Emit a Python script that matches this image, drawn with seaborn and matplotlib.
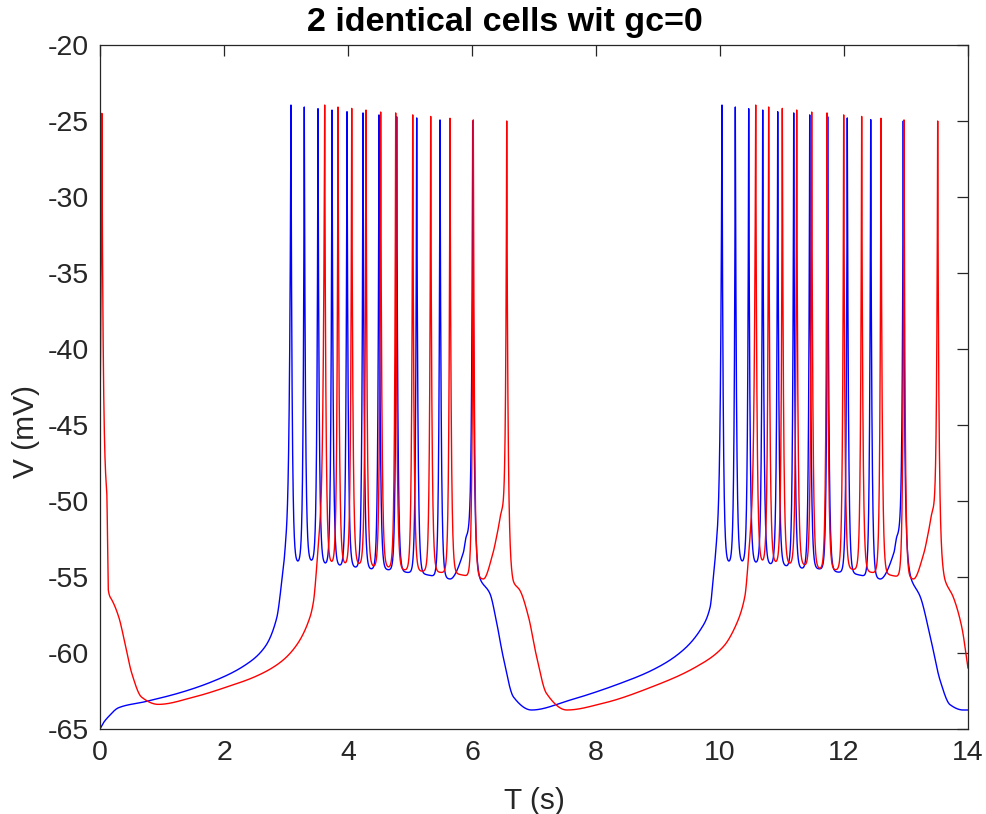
import numpy as np
import pandas as pd
import matplotlib
matplotlib.use("Agg")
import matplotlib.pyplot as plt
import seaborn as sns

# ---------------- data ----------------
# spike times (s) and peak voltages (mV)
blue_spike_t = [3.080, 3.295, 3.516, 3.742, 3.984, 4.242, 4.500, 4.785, 5.108, 5.484, 6.011,
                10.032, 10.247, 10.463, 10.689, 10.931, 11.189, 11.447, 11.737, 12.053, 12.431, 12.956]
blue_peak = [-23.95, -24.08, -24.19, -24.28, -24.39, -24.47, -24.60, -24.72, -24.80, -24.93, -25.00,
             -23.95, -24.08, -24.19, -24.28, -24.39, -24.47, -24.60, -24.72, -24.80, -24.91, -25.00]
# sub-threshold trace (troughs and slow wave) read at key times
blue_key_t = [0.000, 0.054, 0.134, 0.300, 0.730, 1.260, 1.800, 2.340, 2.660, 2.850, 2.957, 3.005,
              3.166, 3.382, 3.608, 3.834, 4.076, 4.334, 4.608, 4.898, 5.237, 5.645, 5.860, 5.910, 5.960,
              6.130, 6.290, 6.400, 6.500, 6.670, 6.960, 7.580, 8.390, 8.920, 9.350, 9.680, 9.840, 9.907, 9.955,
              10.118, 10.334, 10.560, 10.790, 11.032, 11.285, 11.559, 11.855, 12.188, 12.581, 12.805, 12.855,
              12.905,
              13.090, 13.230, 13.390, 13.550, 13.710, 13.920, 14.000]
blue_key_v = [-65.0, -64.6, -64.2, -63.6, -63.2, -62.65, -61.9, -60.8, -59.6, -57.7, -54.4, -52.0,
              -53.77, -53.70, -53.93, -54.03, -54.13, -54.26, -54.43, -54.60, -54.80, -55.13, -53.4, -52.3, -50.8,
              -55.1, -56.1, -58.05, -60.2, -62.9, -63.75, -63.1, -62.0, -61.1, -60.0, -58.5, -57.0, -54.4, -52.0,
              -53.77, -53.77, -53.93, -54.03, -54.13, -54.26, -54.39, -54.60, -54.80, -55.13, -53.4, -52.3,
              -50.8,
              -55.2, -56.3, -58.9, -61.8, -63.4, -63.75, -63.75]

red_spike_t = [0.030, 3.624, 3.839, 4.060, 4.290, 4.527, 4.769, 5.044, 5.334, 5.645, 6.021, 6.560,
               10.576, 10.785, 11.005, 11.237, 11.479, 11.726, 11.995, 12.285, 12.597, 12.968, 13.511]
red_peak = [-24.5, -23.95, -24.08, -24.17, -24.28, -24.41, -24.47, -24.60, -24.70, -24.82, -24.93, -25.00,
            -23.95, -24.08, -24.17, -24.28, -24.41, -24.47, -24.60, -24.70, -24.82, -24.93, -25.00]
red_key_t = [0.000, 0.108, 0.134, 0.190, 0.300, 0.400, 0.510, 0.670, 0.940, 1.530, 2.070, 2.500,
             2.880, 3.150, 3.390, 3.440, 3.550,
             3.710, 3.924, 4.150, 4.382, 4.624, 4.876, 5.140, 5.444, 5.779, 6.182, 6.340, 6.400, 6.480,
             6.670, 6.770, 6.910, 7.040, 7.200, 7.530, 8.120, 8.920, 9.620, 10.050, 10.270, 10.400, 10.502,
             10.666, 10.876, 11.100, 11.339, 11.570, 11.830, 12.108, 12.398, 12.715, 13.118, 13.290, 13.350,
             13.430,
             13.630, 13.760, 13.900, 14.000]
red_key_v = [-44.3, -49.3, -55.86, -56.5, -57.6, -59.3, -61.3, -62.9, -63.38, -62.88, -62.2, -61.56,
             -60.7, -59.6, -57.6, -56.7, -51.25,
             -53.77, -53.84, -53.93, -54.10, -54.21, -54.43, -54.43, -54.60, -54.80, -55.13, -53.4, -52.3, -50.6,
             -55.3, -55.86, -57.6, -60.2, -62.65, -63.75, -63.3, -62.2, -60.9, -59.6, -58.05, -56.3, -51.25,
             -53.77, -53.84, -53.97, -54.10, -54.21, -54.43, -54.43, -54.60, -54.80, -55.13, -53.4, -52.3,
             -50.6,
             -55.2, -56.3, -58.3, -61.0]

x_ticks = [0, 2, 4, 6, 8, 10, 12, 14]
y_ticks = [-65, -60, -55, -50, -45, -40, -35, -30, -25, -20]
title_text = "2 identical cells wit gc=0"
x_label = "T (s)"
y_label = "V (mV)"


# ---------------- trace construction ----------------
def pchip(x, y, xn):
    x = np.asarray(x, float); y = np.asarray(y, float); xn = np.asarray(xn, float)
    h = np.diff(x); d = np.diff(y) / h
    m = np.zeros_like(y)
    for k in range(1, len(x) - 1):
        if d[k - 1] * d[k] > 0:
            w1 = 2 * h[k] + h[k - 1]; w2 = h[k] + 2 * h[k - 1]
            m[k] = (w1 + w2) / (w1 / d[k - 1] + w2 / d[k])
    m[0] = d[0]; m[-1] = d[-1]
    idx = np.clip(np.searchsorted(x, xn) - 1, 0, len(x) - 2)
    s = (xn - x[idx]) / h[idx]
    h00 = 2 * s**3 - 3 * s**2 + 1; h10 = s**3 - 2 * s**2 + s
    h01 = -2 * s**3 + 3 * s**2; h11 = s**3 - s**2
    return h00 * y[idx] + h10 * h[idx] * m[idx] + h01 * y[idx + 1] + h11 * h[idx] * m[idx + 1]


def build(t, spk_t, spk_p, key_t, key_v, tau_d, tau_r):
    spk_t = np.asarray(spk_t, float); spk_p = np.asarray(spk_p, float)
    key_t = np.asarray(key_t, float); target = np.asarray(key_v, float)
    base_v = target.copy()

    def spikes(tt, bv):
        out = np.zeros_like(tt)
        b = pchip(key_t, bv, spk_t)
        for ts, p, bs, td, tr in zip(spk_t, spk_p, b, tau_d, tau_r):
            dd = tt - ts
            k = np.where(dd >= 0, np.exp(-np.clip(dd, 0, None) / td),
                         np.exp(np.clip(dd, None, 0) / tr))
            out += (p - bs) * k
        return out

    # the drawn trace passes through the read values at the key times
    for _ in range(8):
        base_v = target - spikes(key_t, base_v)
    return pchip(key_t, base_v, t) + spikes(t, base_v)


def rise_taus(spk_t):
    # slower upstroke for the first spike after a long quiet period
    out = []
    for i, ts in enumerate(spk_t):
        out.append(0.026 if (i == 0 or ts - spk_t[i - 1] > 1.0) else 0.0173)
    return out


t = np.union1d(np.linspace(0, 14, 28001), np.r_[blue_spike_t, red_spike_t])
tau_blue = [0.019] * len(blue_spike_t)
tau_red = [0.025] + [0.019] * (len(red_spike_t) - 1)
v_blue = build(t, blue_spike_t, blue_peak, blue_key_t, blue_key_v, tau_blue, rise_taus(blue_spike_t))
v_red = build(t, red_spike_t, red_peak, red_key_t, red_key_v, tau_red, rise_taus(red_spike_t))

df_b = pd.DataFrame({"T": t, "V": v_blue})
df_r = pd.DataFrame({"T": t, "V": v_red})

# ---------------- drawing ----------------
sns.set_theme(style="white")
plt.rcParams["font.family"] = ["Liberation Sans", "DejaVu Sans"]
plt.rcParams["axes.unicode_minus"] = False

fig = plt.figure(figsize=(9.86, 8.14), dpi=100)
ax = fig.add_axes([100 / 986, 1 - 729 / 814, 868 / 986, 684 / 814])

sns.lineplot(data=df_b, x="T", y="V", color="#0000ff", linewidth=1.0, estimator=None, sort=False, ax=ax)
sns.lineplot(data=df_r, x="T", y="V", color="#ff0000", linewidth=1.0, estimator=None, sort=False, ax=ax)

ax.set_xlim(0, 14)
ax.set_ylim(-65, -20)
ax.set_xticks(x_ticks)
ax.set_yticks(y_ticks)
ax.set_xticklabels([str(v) for v in x_ticks])
ax.set_yticklabels([str(v) for v in y_ticks])
ax.tick_params(direction="in", top=True, right=True, length=8, width=0.9,
               color="#262626", labelcolor="#262626", labelsize=20.5, pad=8)
for sp in ax.spines.values():
    sp.set_visible(True)
    sp.set_color("#262626")
    sp.set_linewidth(0.9)

ax.set_xlabel(x_label, fontsize=21.5, color="#262626", labelpad=15)
ax.set_ylabel(y_label, fontsize=21.5, color="#262626")
ax.yaxis.set_label_coords((40 - 100) / 868, (729 - 432) / 684)
fig.text(504.5 / 986, 1 - 22 / 814, title_text, fontsize=24.5, fontweight="bold",
         color="black", ha="center", va="center")

fig.savefig("out.png", dpi=100)
